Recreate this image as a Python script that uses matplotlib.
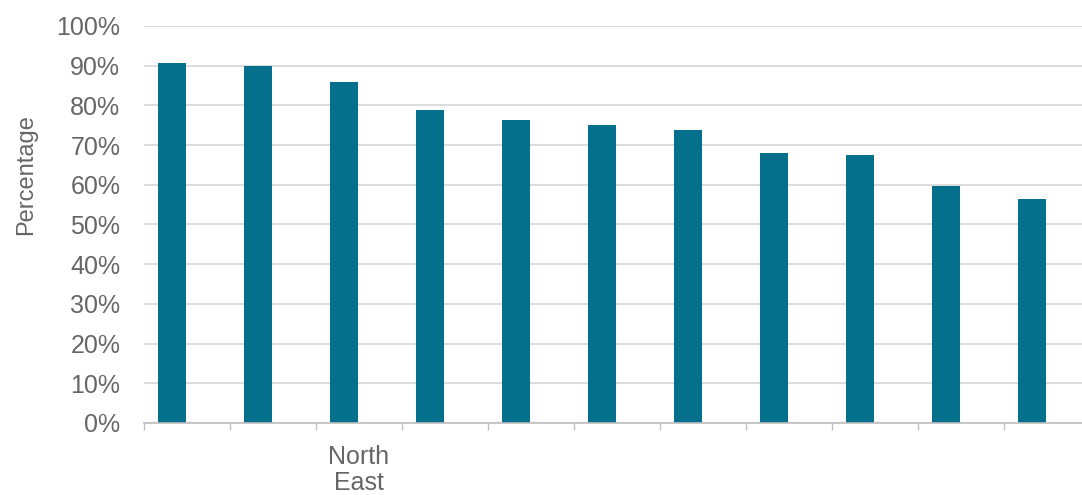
import numpy as np
import matplotlib.pyplot as plt
from matplotlib.ticker import PercentFormatter

plt.rcParams['font.family'] = ['Liberation Sans', 'DejaVu Sans']

# data (only one category label is shown)
categories = ['', '', 'North\nEast', '', '', '', '', '', '', '', '']
values = [90.8, 90.0, 85.9, 78.9, 76.4, 75.1, 73.9, 68.1, 67.6, 59.7, 56.5]

bar_color = '#04708c'
text_color = '#666666'
grid_color = '#d9d9d9'

fig = plt.figure(figsize=(10.82, 4.95), dpi=100)
ax = fig.add_axes([0.133, 0.1455, 0.8743, 0.802])

x = np.arange(len(values))
ax.bar(x - 0.174, values, width=0.325, color=bar_color, zorder=3)

ax.set_xlim(-0.5, len(values) - 0.5)
ax.set_ylim(0, 100)
ax.set_yticks(np.arange(0, 101, 10))
ax.yaxis.set_major_formatter(PercentFormatter(decimals=0))
ax.grid(axis='y', color=grid_color, linewidth=1.3, zorder=0)

# tick marks at category boundaries, labels at centres
ax.set_xticks(np.arange(-0.5, len(values) + 0.5, 1.0))
ax.set_xticklabels([])
ax.set_xticks(x, minor=True)
ax.set_xticklabels(categories, minor=True, fontsize=18, color=text_color, linespacing=1.1)
ax.tick_params(axis='x', which='major', length=5, color='#bfbfbf', width=1)
ax.tick_params(axis='x', which='minor', length=0, pad=16)
ax.tick_params(axis='y', length=0, pad=17, labelsize=18, labelcolor=text_color)

for s in ['left', 'top', 'right']:
    ax.spines[s].set_visible(False)
ax.spines['bottom'].set_color('#bfbfbf')
ax.spines['bottom'].set_linewidth(1.2)
ax.spines['bottom'].set_zorder(4)

ax.set_ylabel('Percentage', fontsize=17, color=text_color)
ax.yaxis.set_label_coords(-0.113, 0.625)

fig.savefig('out.png', dpi=100)
